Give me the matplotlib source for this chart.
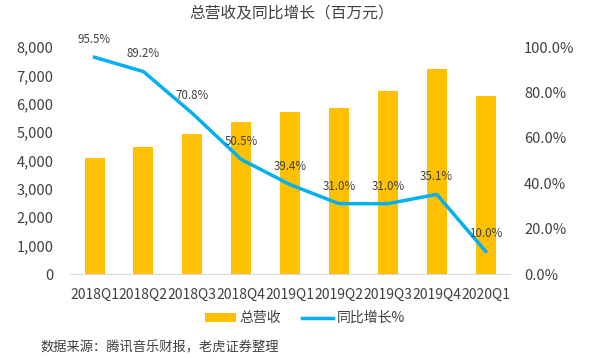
import numpy as np
import matplotlib
matplotlib.use("Agg")
import matplotlib.pyplot as plt
from matplotlib.ticker import FuncFormatter

plt.rcParams['font.family'] = ['Noto Sans CJK SC', 'DejaVu Sans']

quarters = ["2018Q1", "2018Q2", "2018Q3", "2018Q4", "2019Q1",
            "2019Q2", "2019Q3", "2019Q4", "2020Q1"]
revenue = [4085, 4480, 4930, 5350, 5705, 5845, 6455, 7220, 6270]
growth = [95.5, 89.2, 70.8, 50.5, 39.4, 31.0, 31.0, 35.1, 10.0]

bar_color = "#FFC000"
line_color = "#00B0F0"
text_color = "#404040"

fig = plt.figure(figsize=(5.89, 3.62), dpi=100)
ax = fig.add_axes([0.119, 0.243, 0.747, 0.627])
x = np.arange(len(quarters))

bars = ax.bar(x, revenue, width=0.41, color=bar_color, label="总营收", zorder=1)
ax.set_xlim(-0.5, len(quarters) - 0.5)
ax.set_ylim(0, 8000)
ax.set_yticks(np.arange(0, 8001, 1000))
ax.yaxis.set_major_formatter(FuncFormatter(lambda v, p: f"{int(v):,}"))
ax.set_xticks(x)
ax.set_xticklabels(quarters)

ax2 = ax.twinx()
(ln,) = ax2.plot(x, growth, color=line_color, linewidth=2.5, label="同比增长%", zorder=3)
ax2.set_ylim(0, 100)
ax2.set_yticks(np.arange(0, 101, 20))
ax2.yaxis.set_major_formatter(FuncFormatter(lambda v, p: f"{v:.1f}%"))

for xi, g in zip(x, growth):
    ax2.annotate(f"{g:.1f}%", (xi, g), xytext=(0, 8), textcoords="offset points",
                 ha="center", va="bottom", fontsize=8.3, color=text_color)

for a in (ax, ax2):
    for s in ("top", "left", "right", "bottom"):
        a.spines[s].set_visible(False)
    a.tick_params(length=0, labelsize=10.5, colors=text_color)
ax.spines["bottom"].set_visible(True)
ax.spines["bottom"].set_color("#D9D9D9")
ax.tick_params(axis="y", pad=12)
ax.tick_params(axis="x", pad=10, labelsize=10)
ax2.tick_params(axis="y", pad=10)

fig.suptitle("总营收及同比增长（百万元）", x=0.496, y=0.985, fontsize=11.3, color=text_color)

fig.legend(handles=[bars, ln], loc="center", bbox_to_anchor=(0.518, 0.121), ncol=2,
           frameon=False, fontsize=10, handlelength=2.2, handleheight=0.6,
           columnspacing=1.5, handletextpad=0.3, labelcolor=text_color)

fig.text(0.068, 0.04, "数据来源：腾讯音乐财报，老虎证券整理", fontsize=9.5, color=text_color,
         ha="left", va="center")

fig.savefig("out.png", dpi=100)
